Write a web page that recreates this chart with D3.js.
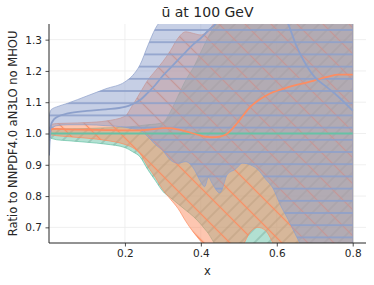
<!DOCTYPE html>
<html>
<head>
<meta charset="utf-8">
<script src="https://cdn.jsdelivr.net/npm/d3@7"></script>
<style>
  body { margin: 0; background: #fff; }
  svg { display: block; font-family: "DejaVu Sans", sans-serif; }
</style>
</head>
<body>
<div id="chart"></div>
<script>
// x grid shared by all three fits
const xs = [0.001, 0.005, 0.01, 0.02, 0.05, 0.1, 0.15, 0.2, 0.22, 0.24, 0.26, 0.28, 0.30, 0.32, 0.34, 0.36, 0.38, 0.40, 0.41, 0.42, 0.43, 0.45, 0.47, 0.49, 0.51, 0.53, 0.55, 0.57, 0.59, 0.61, 0.63, 0.65, 0.67, 0.70, 0.73, 0.76, 0.80];

// green: NNPDF4.0 aN3LO no MHOU (the reference)
const greenMid = [1, 1, 1, 1, 1, 1, 1, 1, 1, 1, 1, 1, 1, 1, 1, 1, 1, 1, 1, 1, 1, 1, 1, 1, 1, 1, 1, 1, 1, 1, 1, 1, 1, 1, 1, 1, 1];
const greenLo = [0.99, 0.985, 0.983, 0.98, 0.977, 0.972, 0.966, 0.955, 0.942, 0.925, 0.885, 0.85, 0.815, 0.795, 0.775, 0.755, 0.735, 0.71, 0.695, 0.68, 0.66, 0.62, 0.6, 0.58, 0.57, 0.56, 0.55, 0.54, 0.53, 0.52, 0.5, 0.48, 0.46, 0.44, 0.42, 0.4, 0.38];
const greenHi = [1.01, 1.012, 1.013, 1.014, 1.015, 1.016, 1.018, 1.02, 1.022, 1.025, 1.028, 1.03, 1.035, 1.07, 1.12, 1.17, 1.21, 1.26, 1.285, 1.31, 1.33, 1.37, 1.40, 1.45, 1.5, 1.5, 1.5, 1.5, 1.5, 1.5, 1.5, 1.5, 1.5, 1.5, 1.5, 1.5, 1.5];

// orange
const orangeMid = [1.0, 1.012, 1.015, 1.015, 1.013, 1.012, 1.011, 1.01, 1.01, 1.01, 1.012, 1.015, 1.017, 1.017, 1.013, 1.007, 1.0, 0.993, 0.99, 0.989, 0.988, 0.99, 1.0, 1.025, 1.055, 1.085, 1.105, 1.12, 1.132, 1.14, 1.148, 1.155, 1.16, 1.17, 1.18, 1.188, 1.188];
const orangeLo = [0.995, 0.995, 0.995, 0.993, 0.99, 0.985, 0.978, 0.965, 0.955, 0.935, 0.895, 0.86, 0.82, 0.79, 0.76, 0.72, 0.685, 0.655, 0.64, 0.625, 0.61, 0.585, 0.575, 0.6, 0.64, 0.685, 0.70, 0.69, 0.65, 0.6, 0.56, 0.52, 0.5, 0.47, 0.45, 0.43, 0.4];
const orangeHi = [1.005, 1.025, 1.03, 1.032, 1.033, 1.035, 1.04, 1.055, 1.09, 1.13, 1.17, 1.2, 1.23, 1.265, 1.305, 1.325, 1.32, 1.315, 1.32, 1.33, 1.345, 1.38, 1.42, 1.45, 1.5, 1.5, 1.5, 1.5, 1.5, 1.5, 1.5, 1.5, 1.5, 1.5, 1.5, 1.5, 1.5];

// blue
const blueMid = [0.985, 1.025, 1.04, 1.052, 1.064, 1.072, 1.077, 1.085, 1.094, 1.107, 1.13, 1.155, 1.185, 1.21, 1.235, 1.26, 1.285, 1.305, 1.317, 1.33, 1.34, 1.365, 1.39, 1.415, 1.435, 1.445, 1.45, 1.44, 1.42, 1.39, 1.35, 1.285, 1.235, 1.18, 1.15, 1.12, 1.073];
const blueLo = [0.93, 1.0, 1.018, 1.025, 1.028, 1.028, 1.025, 1.02, 1.015, 1.01, 0.99, 0.965, 0.945, 0.915, 0.905, 0.91, 0.89, 0.845, 0.83, 0.86, 0.84, 0.81, 0.87, 0.885, 0.905, 0.9, 0.885, 0.855, 0.825, 0.77, 0.725, 0.675, 0.63, 0.57, 0.52, 0.48, 0.44];
const blueHi = [1.06, 1.075, 1.08, 1.085, 1.097, 1.12, 1.143, 1.165, 1.185, 1.22, 1.28, 1.335, 1.37, 1.40, 1.45, 1.5, 1.5, 1.5, 1.5, 1.5, 1.5, 1.5, 1.5, 1.5, 1.5, 1.5, 1.5, 1.5, 1.5, 1.5, 1.5, 1.5, 1.5, 1.5, 1.5, 1.5, 1.5];

const xTicks = [0.2, 0.4, 0.6, 0.8];
const yTicks = [0.7, 0.8, 0.9, 1.0, 1.1, 1.2, 1.3];

const width = 374, height = 285;
const margin = { left: 49, right: 8, top: 24, bottom: 42 };

const svg = d3.select("#chart").append("svg")
  .attr("width", width)
  .attr("height", height);

const x = d3.scaleLinear().domain([0, 0.835]).range([margin.left, width - margin.right]);
const y = d3.scaleLinear().domain([0.65, 1.35]).range([height - margin.bottom, margin.top]);

const defs = svg.append("defs");
defs.append("clipPath").attr("id", "plot")
  .append("rect")
  .attr("x", x.range()[0]).attr("y", y.range()[1])
  .attr("width", x.range()[1] - x.range()[0])
  .attr("height", y.range()[0] - y.range()[1]);

// hatches: green '/', orange '\', blue '-'
function diagHatch(id, color, gap, angle, w, op) {
  const p = defs.append("pattern").attr("id", id)
    .attr("patternUnits", "userSpaceOnUse")
    .attr("width", 10).attr("height", gap)
    .attr("patternTransform", `rotate(${angle})`);
  p.append("line").attr("x1", 0).attr("x2", 10).attr("y1", gap / 2).attr("y2", gap / 2)
    .attr("stroke", color).attr("stroke-width", w).attr("stroke-opacity", op);
}
diagHatch("hatch-green", "#5a8a7a", 14 / Math.SQRT2, -45, 0.8, 0.7);
diagHatch("hatch-orange", "#fc8d62", 26 / Math.SQRT2, 45, 1.3, 0.9);

const bh = defs.append("pattern").attr("id", "hatch-blue")
  .attr("patternUnits", "userSpaceOnUse")
  .attr("width", 10).attr("height", 12.2);
bh.append("line").attr("x1", 0).attr("x2", 10).attr("y1", 5.6).attr("y2", 5.6)
  .attr("stroke", "#8da0cb").attr("stroke-width", 1.6);

// grid
const grid = svg.append("g").attr("stroke", "#ebebeb").attr("stroke-width", 0.8);
grid.selectAll("line.gx").data(xTicks).enter().append("line")
  .attr("x1", d => x(d)).attr("x2", d => x(d))
  .attr("y1", y.range()[0]).attr("y2", y.range()[1]);
grid.selectAll("line.gy").data(yTicks).enter().append("line")
  .attr("x1", x.range()[0]).attr("x2", x.range()[1])
  .attr("y1", d => y(d)).attr("y2", d => y(d));

const series = [
  { name: "green", color: "#66c2a5", lo: greenLo, mid: greenMid, hi: greenHi },
  { name: "orange", color: "#fc8d62", lo: orangeLo, mid: orangeMid, hi: orangeHi },
  { name: "blue", color: "#8da0cb", lo: blueLo, mid: blueMid, hi: blueHi }
];

const plot = svg.append("g").attr("clip-path", "url(#plot)");

const band = (s) => d3.area()
  .x((d, i) => x(xs[i]))
  .y0((d, i) => y(s.lo[i]))
  .y1((d, i) => y(s.hi[i]))
  .curve(d3.curveMonotoneX)(xs);

const mid = (s) => d3.line()
  .x((d, i) => x(xs[i]))
  .y((d, i) => y(s.mid[i]))
  .curve(d3.curveMonotoneX)(xs);

series.forEach(s => {
  plot.append("path").attr("d", band(s))
    .attr("fill", s.color).attr("fill-opacity", 0.5)
    .attr("stroke", s.color).attr("stroke-width", 1).attr("stroke-opacity", 0.7);
  plot.append("path").attr("d", band(s))
    .attr("fill", `url(#hatch-${s.name})`);
});

series.forEach(s => {
  plot.append("path").attr("d", mid(s))
    .attr("fill", "none")
    .attr("stroke", s.color)
    .attr("stroke-width", 1.8);
});

// axes
const xAxis = svg.append("g")
  .attr("transform", `translate(0,${y.range()[0]})`)
  .call(d3.axisBottom(x).tickValues(xTicks).tickSize(3.5).tickPadding(3.5).tickFormat(d3.format(".1f")));
const yAxis = svg.append("g")
  .attr("transform", `translate(${x.range()[0]},0)`)
  .call(d3.axisLeft(y).tickValues(yTicks).tickSize(3.5).tickPadding(3.5).tickFormat(d3.format(".1f")));

[xAxis, yAxis].forEach(a => {
  a.select(".domain").attr("stroke", "#262626").attr("stroke-width", 1);
  a.selectAll(".tick line").attr("stroke", "#262626").attr("stroke-width", 0.8);
  a.selectAll(".tick text").attr("fill", "#262626")
    .style("font-size", "10.5px").style("font-family", "DejaVu Sans");
});
xAxis.select(".domain").attr("d", `M${x.range()[0]},0H${x.range()[1]}`);
yAxis.select(".domain").attr("d", `M0,${y.range()[0]}V${y.range()[1]}`);

svg.append("text")
  .attr("x", (x.range()[0] + x.range()[1]) / 2).attr("y", 17)
  .attr("text-anchor", "middle").attr("fill", "#262626")
  .style("font-size", "14px")
  .text("ū at 100 GeV");

svg.append("text")
  .attr("x", (x.range()[0] + x.range()[1]) / 2).attr("y", 275)
  .attr("text-anchor", "middle").attr("fill", "#262626")
  .style("font-size", "11.5px")
  .text("x");

svg.append("text")
  .attr("transform", `translate(16.5,${(y.range()[0] + y.range()[1]) / 2}) rotate(-90)`)
  .attr("text-anchor", "middle").attr("fill", "#262626")
  .style("font-size", "11.5px")
  .text("Ratio to NNPDF4.0 aN3LO no MHOU");
</script>
</body>
</html>
